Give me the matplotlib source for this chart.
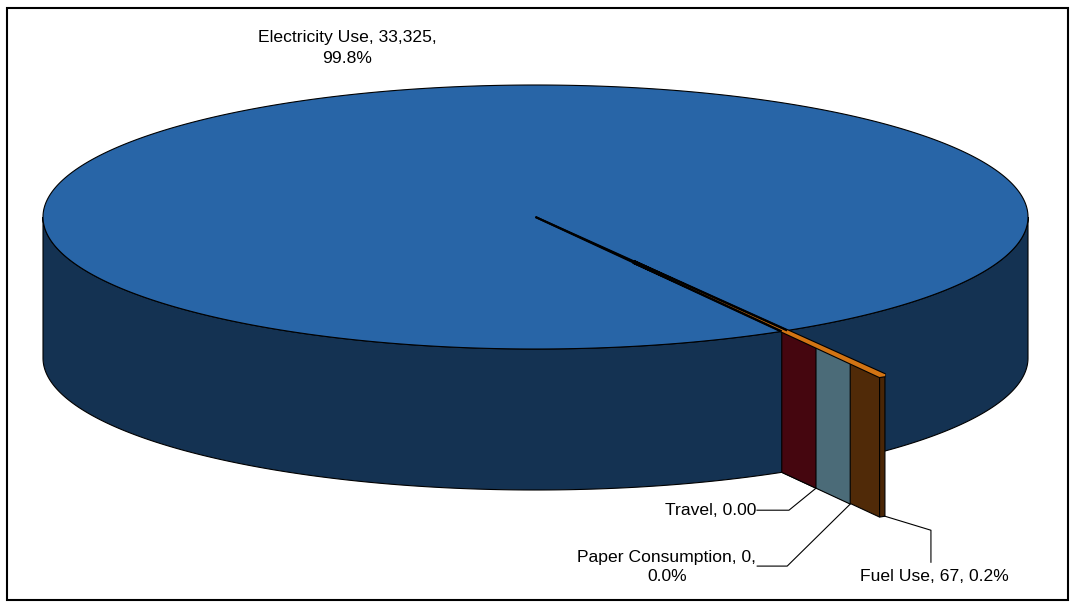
import numpy as np
import matplotlib.pyplot as plt
import matplotlib.patheffects as pe
from matplotlib.patches import Polygon, Rectangle

plt.rcParams['font.family'] = ['Liberation Sans', 'DejaVu Sans']

# emissions by source
categories = ['Electricity Use', 'Fuel Use', 'Paper Consumption', 'Travel']
values = [33325, 67, 0, 0]
label_fmt = ['{name}, {val:,.0f},\n{pct:.1f}%',
             '{name}, {val:,.0f}, {pct:.1f}%',
             '{name}, {val:.0f},\n{pct:.1f}%',
             '{name}, {val:.2f}']

# look of the 3d pie
top_colors = ['#2865A7', '#D27414', '#4B6B78', '#45060F']
face_colors = ['#143252', '#502A08', '#4B6B78', '#45060F']
side_colors = ['#143252', '#4A2606', '#4B6B78', '#45060F']
explode = [0.0, 0.393, 0.278, 0.139]
start_angle = 60.0      # degrees, clockwise from 3 o'clock

W, H = 1077, 608
CX, CY = 535.5, 217.0   # centre of the top ellipse
RX, RY = 492.5, 132.0
DEPTH = 141.0
LW = 0.8


def proj(u, v, z=0.0):
    return CX + RX * u, CY + RY * v + DEPTH * z


def arc(a0, a1, off, z=0.0, r=1.0, n=200):
    t = np.radians(np.linspace(a0, a1, n))
    return [proj(off[0] + r * np.cos(a), off[1] + r * np.sin(a), z) for a in t]


def side_poly(a0, a1, off, color):
    pts = arc(a0, a1, off, 0) + arc(a1, a0, off, 1)
    return Polygon(pts, closed=True, fc=color, ec='black', lw=LW)


def face_poly(ang, off, r0, r1, color):
    d = np.cos(np.radians(ang)), np.sin(np.radians(ang))
    p = [(off[0] + r * d[0], off[1] + r * d[1]) for r in (r0, r1)]
    pts = [proj(*p[0]), proj(*p[1]), proj(*p[1], 1), proj(*p[0], 1)]
    return Polygon(pts, closed=True, fc=color, ec='black', lw=LW)


vals = np.array(values, dtype=float)
total = vals.sum()
pcts = vals / total * 100
spans = vals / total * 360
starts = start_angle + np.concatenate([[0], np.cumsum(spans)[:-1]])
ends = starts + spans
offs = []
for s, e, ex in zip(starts, ends, explode):
    m = np.radians((s + e) / 2)
    offs.append((ex * np.cos(m), ex * np.sin(m)))

fig = plt.figure(figsize=(W / 100, H / 100), dpi=100)
ax = fig.add_axes([0, 0, 1, 1])
ax.set_xlim(0, W)
ax.set_ylim(H, 0)
ax.axis('off')

# chart border
ax.add_patch(Rectangle((7, 8), 1061, 592, fill=False, ec='black', lw=1.5))

# big slice: back-right part of the wall first
s0, e0 = starts[0], ends[0]
ax.add_patch(side_poly(360, e0, offs[0], side_colors[0]))

# exploded small slices, furthest first
for i in sorted(range(1, len(values)), key=lambda k: -explode[k]):
    ax.add_patch(face_poly(ends[i], offs[i], 0.0, 1.0, face_colors[i]))
    if spans[i] > 0:
        ax.add_patch(side_poly(starts[i], ends[i], offs[i], side_colors[i]))

# front-left wall and top of the big slice
ax.add_patch(side_poly(s0, 180, offs[0], side_colors[0]))
top = [proj(*offs[0])] + arc(s0, e0, offs[0], 0, n=800)
ax.add_patch(Polygon(top, closed=True, fc=top_colors[0], ec='black', lw=LW))

# top of the fuel slice, a thin band with dark rims
for i in range(1, len(values)):
    if spans[i] > 0:
        pts = [proj(*offs[i])] + arc(starts[i], ends[i], offs[i], 0, n=20)
        ax.add_patch(Polygon(pts, closed=True, fc=top_colors[i],
                             ec=top_colors[i], lw=1.3, joinstyle='bevel',
                             path_effects=[pe.Stroke(linewidth=2.9,
                                                     foreground='black',
                                                     joinstyle='bevel'),
                                           pe.Normal()]))

# seam of the big slice drawn over the band
for ang in (s0, e0):
    a = np.radians(ang)
    p0 = proj(*offs[0])
    p1 = proj(offs[0][0] + np.cos(a), offs[0][1] + np.sin(a))
    ax.plot([p0[0], p1[0]], [p0[1], p1[1]], color='black', lw=1.5,
            solid_capstyle='butt')

texts = [fmt.format(name=c, val=v, pct=p)
         for fmt, c, v, p in zip(label_fmt, categories, values, pcts)]
fs = 12.6

ax.text(347, 48, texts[0], ha='center', va='center', fontsize=fs,
        linespacing=1.55)


def anchor(i, ang):
    a = np.radians(ang)
    return proj(offs[i][0] + np.cos(a), offs[i][1] + np.sin(a), 1)


# Travel
x0, y0 = anchor(3, ends[3])
xe, ye = x0 - 27, y0 + 22
ax.plot([x0, xe, xe - 32], [y0, ye, ye], color='black', lw=LW)
ax.text(xe - 33, ye, texts[3], ha='right', va='center', fontsize=fs)

# Paper Consumption
x0, y0 = anchor(2, ends[2])
xe, ye = x0 - 63, y0 + 62
ax.plot([x0, xe, xe - 30], [y0, ye, ye], color='black', lw=LW)
ax.text(xe - 31, ye + 1, texts[2], ha='right', va='center', fontsize=fs,
        multialignment='center', linespacing=1.3)

# Fuel Use
x0, y0 = anchor(1, starts[1])
xe, ye = x0 + 46, y0 + 14
ax.plot([x0, xe, xe], [y0, ye, ye + 32], color='black', lw=LW)
ax.text(xe + 3, ye + 46, texts[1], ha='center', va='center', fontsize=fs)

fig.savefig('out.png', dpi=100)
